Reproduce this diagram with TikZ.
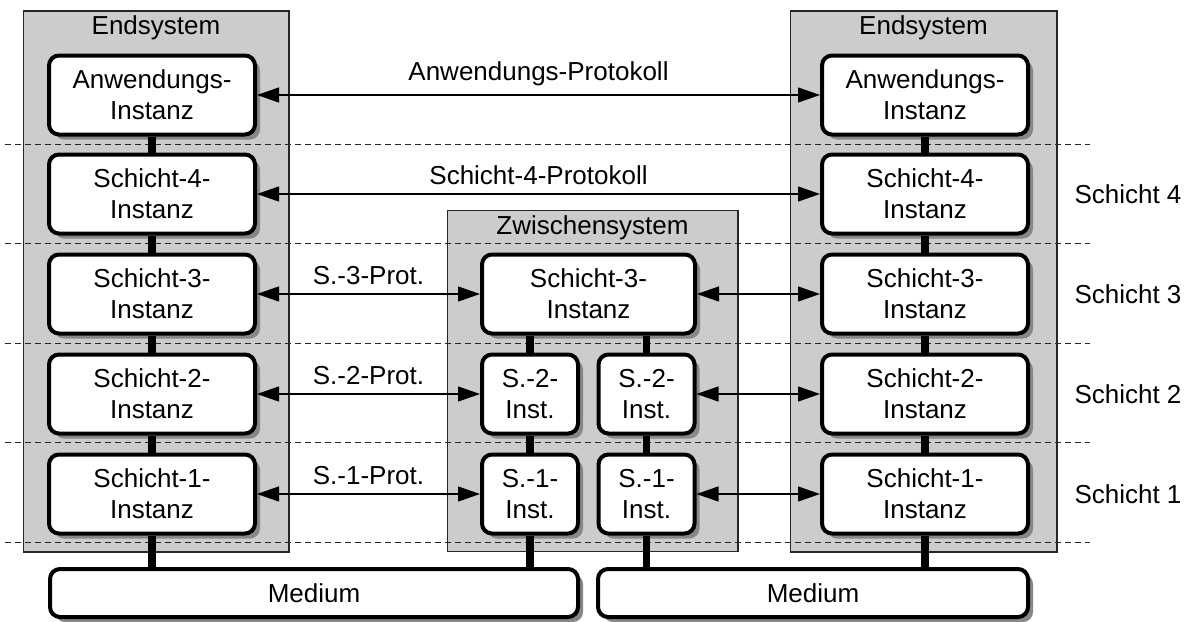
\documentclass[tikz,border=0pt]{standalone}
\usepackage{fontspec}
\setmainfont{Liberation Sans}
\usetikzlibrary{arrows.meta}
\usetikzlibrary{shadows}

\begin{document}
\begin{tikzpicture}[x=0.5pt,y=-0.5pt,font=\fontsize{13}{15.5}\selectfont,
	inst/.style={draw,line width=2pt,rounded corners=5pt,fill=white,align=center,inner sep=0pt,
		minimum width=103pt,minimum height=39.5pt,
		drop shadow={shadow xshift=2.5pt,shadow yshift=-2.5pt,fill=black!47,opacity=1}},
	smallinst/.style={inst,minimum width=48pt},
	midinst/.style={inst,minimum width=106.5pt},
	medium/.style={inst,minimum height=24pt},
	sys/.style={draw=black!85,line width=0.6pt,fill=black!20},
	layerline/.style={dashed,dash pattern=on 3pt off 2pt,line width=0.5pt,draw=black!85},
	link/.style={line width=3.8pt},
	proto/.style={{Triangle[length=11pt,width=7.5pt]}-{Triangle[length=11pt,width=7.5pt]},line width=0.6pt}]
	\useasboundingbox (0,0) rectangle (1188,621);

	\draw[sys] (23.5,11) rectangle (289,552);
	\draw[sys] (447.5,210.5) rectangle (738,551.5);
	\draw[sys] (790.5,11) rectangle (1057,552);
	\node (es1) at (156,28) {Endsystem};
	\node (es2) at (923.5,28) {Endsystem};
	\node (zs) at (592.5,228) {Zwischensystem};

	\foreach \y in {144,243,343,442,542}
		\draw[layerline] (5,\y) -- (1090,\y);

	\node[inst] (la) at (152,95) {Anwendungs-\\Instanz};
	\node[inst] (l4) at (152,194) {Schicht-4-\\Instanz};
	\node[inst] (l3) at (152,294) {Schicht-3-\\Instanz};
	\node[inst] (l2) at (152,394) {Schicht-2-\\Instanz};
	\node[inst] (l1) at (152,494) {Schicht-1-\\Instanz};

	\node[inst] (ra) at (925,95) {Anwendungs-\\Instanz};
	\node[inst] (r4) at (925,194) {Schicht-4-\\Instanz};
	\node[inst] (r3) at (925,294) {Schicht-3-\\Instanz};
	\node[inst] (r2) at (925,394) {Schicht-2-\\Instanz};
	\node[inst] (r1) at (925,494) {Schicht-1-\\Instanz};

	\node[midinst] (z3) at (588.5,294) {Schicht-3-\\Instanz};
	\node[smallinst] (z2a) at (530,394) {S.-2-\\Inst.};
	\node[smallinst] (z2b) at (646.5,394) {S.-2-\\Inst.};
	\node[smallinst] (z1a) at (530,494) {S.-1-\\Inst.};
	\node[smallinst] (z1b) at (646.5,494) {S.-1-\\Inst.};

	\node[medium,minimum width=264pt] (lm) at (314,593) {Medium};
	\node[medium,minimum width=215pt] (rm) at (813,593) {Medium};

	\draw[link] (la.south) -- (l4.north);
	\draw[link] (l4.south) -- (l3.north);
	\draw[link] (l3.south) -- (l2.north);
	\draw[link] (l2.south) -- (l1.north);
	\draw[link] (l1.south) -- (l1.south |- lm.north);
	\draw[link] (ra.south) -- (r4.north);
	\draw[link] (r4.south) -- (r3.north);
	\draw[link] (r3.south) -- (r2.north);
	\draw[link] (r2.south) -- (r1.north);
	\draw[link] (r1.south) -- (r1.south |- rm.north);
	\draw[link] (z2a.north |- z3.south) -- (z2a.north);
	\draw[link] (z2b.north |- z3.south) -- (z2b.north);
	\draw[link] (z2a.south) -- (z1a.north);
	\draw[link] (z2b.south) -- (z1b.north);
	\draw[link] (z1a.south) -- (z1a.south |- lm.north);
	\draw[link] (z1b.south) -- (z1b.south |- rm.north);

	\draw[proto] (la.east) -- (ra.west) node[midway,above=1pt] {Anwendungs-Protokoll};
	\draw[proto] (l4.east) -- (r4.west) node[midway,above=1pt] {Schicht-4-Protokoll};
	\draw[proto] (l3.east) -- (z3.west) node[midway,above=1pt] {S.-3-Prot.};
	\draw[proto] (z3.east) -- (r3.west);
	\draw[proto] (l2.east) -- (z2a.west) node[midway,above=1pt] {S.-2-Prot.};
	\draw[proto] (z2b.east) -- (r2.west);
	\draw[proto] (l1.east) -- (z1a.west) node[midway,above=1pt] {S.-1-Prot.};
	\draw[proto] (z1b.east) -- (r1.west);

	\node (s4) at (1128,194) {Schicht 4};
	\node (s3) at (1128,294) {Schicht 3};
	\node (s2) at (1128,394) {Schicht 2};
	\node (s1) at (1128,494) {Schicht 1};
\end{tikzpicture}
\end{document}
